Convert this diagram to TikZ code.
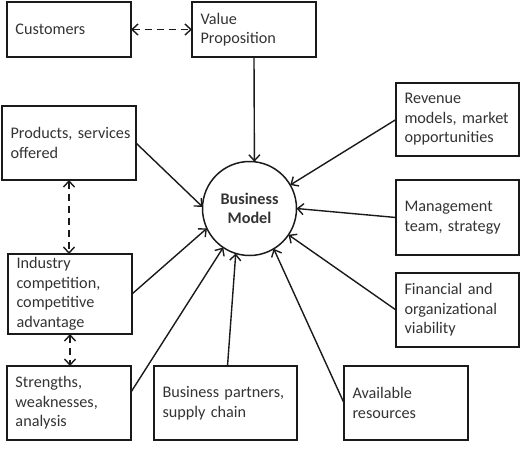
\documentclass[tikz,border=0pt]{standalone}
\usepackage{fontspec}
\setmainfont{Carlito}
\usetikzlibrary{arrows.meta}
\definecolor{linec}{HTML}{1A1A1A}
\definecolor{textc}{HTML}{333333}
\newcommand\myboxfont{\fontsize{16.2}{19.5}\selectfont\hyphenpenalty=10000 \exhyphenpenalty=10000 \hbadness=10000 \hfuzz=50pt\relax}
\begin{document}
\begin{tikzpicture}[x=1pt,y=-1pt,
  box/.style={draw=linec, line width=1.5pt, anchor=north west, align=left,
    inner xsep=8.5pt, inner ysep=0pt, outer sep=0pt, text=textc,
    font=\myboxfont},
  conn/.style={draw=linec, line width=1.4pt, -{Straight Barb[length=6pt,width=11pt]}},
  dconn/.style={draw=linec, line width=1.4pt, dash pattern=on 7pt off 5pt,
    {Straight Barb[length=6pt,width=11pt]}-{Straight Barb[length=6pt,width=11pt]}}]
\useasboundingbox (0,0) rectangle (525,448);
\node[box, minimum width=124pt, minimum height=55pt, text width=107pt] (cust) at (7,2) {Customers};
\node[box, minimum width=124pt, minimum height=55pt, text width=107pt] (vp) at (192,2) {Value\\Proposition};
\node[box, minimum width=134pt, minimum height=74pt, text width=117pt] (prod) at (2,106) {Products,~services\\offered};
\node[box, minimum width=124pt, minimum height=80pt, text width=107pt] (ind) at (8,254) {Industry\\competition,\\competitive\\advantage};
\node[box, minimum width=124pt, minimum height=74pt, text width=107pt] (str) at (7,366) {Strengths,\\weaknesses,\\analysis};
\node[box, minimum width=143pt, minimum height=74pt, text width=126pt] (bp) at (154,366) {Business~partners,\\supply~chain};
\node[box, minimum width=124pt, minimum height=74pt, text width=107pt] (avail) at (344,366) {Available\\resources};
\node[box, minimum width=123pt, minimum height=73pt, text width=106pt] (rev) at (396,83) {Revenue\\models,~market\\opportunities};
\node[box, minimum width=123pt, minimum height=75pt, text width=106pt] (mgmt) at (396,180) {Management\\team,~strategy};
\node[box, minimum width=123pt, minimum height=74pt, text width=106pt] (fin) at (396,273) {Financial~and\\organizational\\viability};
\node[circle, draw=linec, line width=1.5pt, minimum size=94pt, inner sep=0pt, outer sep=0pt,
  align=center, text=textc, font=\fontsize{16.2}{19.5}\selectfont\bfseries] (bm) at (249.5,208.5) {Business\\Model};
% connectors
\draw[conn] (vp.south) -- (bm.84);
\draw[conn] (rev.west) -- (bm.30);
\draw[conn] (mgmt.west) -- (bm.0);
\draw[conn] (fin.west) -- (bm.326);
\draw[conn] (avail.west) -- (bm.301);
\draw[conn] ([xshift=2pt]bp.north) -- (bm.253);
\draw[conn] (str.10) -- (bm.236);
\draw[conn] (ind.east) -- (bm.205);
\draw[conn] (prod.east) -- (bm.178);
\draw[dconn] (cust.east) -- (vp.west);
\draw[dconn] (prod.south) -- (prod.south |- ind.north);
\draw[dconn] (ind.south) -- (ind.south |- str.north);
\end{tikzpicture}
\end{document}
